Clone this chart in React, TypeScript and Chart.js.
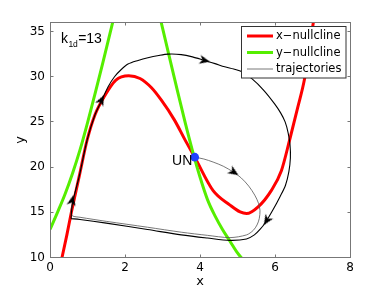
import { useEffect, useRef } from "react";
import { Chart, registerables } from "chart.js";

Chart.register(...registerables);

// ---- axis ticks ----
const xTicks = [0, 2, 4, 6, 8];
const yTicks = [10, 15, 20, 25, 30, 35];

// ---- x-nullcline (red) ----
const xNullX = [0.32, 0.45, 0.57, 0.78, 0.99, 1.2, 1.46, 1.75, 2.1, 2.4, 2.7, 2.97, 3.32, 3.59, 3.86, 4.35, 4.8, 5.07, 5.24, 5.55, 5.9, 6.17, 6.39, 6.6, 6.79, 7.03, 7.1];
const xNullY = [10, 12.5, 15, 19, 23, 25.8, 27.9, 29.6, 30.1, 29.8, 28.8, 27.4, 25.2, 23.1, 21.1, 17.4, 15.8, 15.04, 14.86, 15.6, 17.4, 19.6, 23, 26.5, 29.8, 36.2, 38];

// ---- y-nullcline (green), two branches split by a gap (null) ----
const yNullX = [0, 0.2, 0.4, 0.6, 0.8, 1.0, 1.2, 1.4, 1.6, 1.8, 1.9, 2.3, 2.8, 3.0, 3.2, 3.4, 3.6, 3.8, 4.0, 4.2, 4.4, 4.6, 4.8, 5.0, 5.2];
const yNullY: (number | null)[] = [13.1, 15.0, 17.0, 19.3, 21.9, 24.9, 28.1, 31.4, 34.8, 38.2, 39.9, null, 38.9, 35.4, 31.9, 28.4, 25.0, 21.8, 18.9, 16.4, 14.6, 13.1, 11.8, 10.5, 9.5];

// ---- trajectory 1 (black, limit cycle) ----
const trajAX = [0.56, 0.6, 0.78, 0.99, 1.2, 1.37, 1.55, 1.72, 1.9, 2.08, 2.35, 2.61, 2.9, 3.15, 3.5, 3.8, 4.12, 4.4, 4.66, 4.9, 5.09, 5.39, 5.7, 5.99, 6.15, 6.27, 6.35, 6.4, 6.41, 6.37, 6.28, 6.13, 5.95, 5.75, 5.6, 5.45, 5.24, 4.8, 4.2, 3.5, 2.6, 1.5, 0.8, 0.56];
const trajAY = [14.3, 16.0, 19.0, 23.0, 25.8, 27.3, 28.9, 30.0, 30.8, 31.4, 31.8, 32.1, 32.35, 32.5, 32.45, 32.2, 31.8, 31.45, 31.1, 30.85, 30.6, 29.76, 28.5, 27.0, 26.0, 25.0, 23.8, 22.5, 21.0, 19.5, 18.0, 16.7, 15.3, 13.9, 13.1, 12.5, 12.05, 11.9, 12.15, 12.5, 13.1, 13.8, 14.2, 14.3];

// ---- trajectory 2 (grey, from UN) ----
const trajBX = [3.86, 4.1, 4.35, 4.62, 4.89, 5.1, 5.3, 5.46, 5.56, 5.6, 5.58, 5.52, 5.42, 5.24, 4.8, 4.2, 3.5, 2.6, 1.5, 0.8, 0.6, 0.56, 0.6, 0.78, 0.99];
const trajBY = [21.1, 20.9, 20.56, 20.1, 19.45, 18.8, 17.9, 16.9, 16.0, 15.2, 14.3, 13.6, 13.0, 12.5, 12.2, 12.45, 12.8, 13.35, 14.0, 14.45, 14.6, 15.0, 16.0, 19.0, 23.0];

// ---- arrow heads (position, direction in screen degrees) ----
const arrowX = [0.59, 1.37, 4.12, 4.9, 5.78];
const arrowY = [16.3, 27.4, 31.8, 19.45, 14.1];
const arrowRot = [-78, -64, 13, 33, 122];

// ---- equilibrium point ----
const unX = [3.86];
const unY = [21.1];
const unLabel = "UN";

// ---- texts ----
const legendLabels = ["x\u2212nullcline", "y\u2212nullcline", "trajectories"];
const paramMain = "k";
const paramSub = "1d";
const paramRest = "=13";
const paramPos = { x: 0.29, y: 33.7 };

const pts = (xs: number[], ys: (number | null)[]) => xs.map((x, i) => ({ x, y: ys[i] }));

function makeArrow(): HTMLCanvasElement {
  const c = document.createElement("canvas");
  c.width = 14;
  c.height = 14;
  const g = c.getContext("2d")!;
  g.fillStyle = "#000";
  g.beginPath();
  g.moveTo(12.5, 7);
  g.lineTo(2, 2.5);
  g.lineTo(5, 7);
  g.lineTo(2, 11.5);
  g.closePath();
  g.fill();
  return c;
}

const FONT = "DejaVu Sans";
const TXT = "'Liberation Sans Narrow', 'Liberation Sans'";

export default function App() {
  const ref = useRef<HTMLCanvasElement>(null);

  useEffect(() => {
    document.body.style.margin = "0";
    const canvas = ref.current!;
    const arrow = makeArrow();

    const framePlugin = {
      id: "frame",
      afterDatasetsDraw(chart: any) {
        const { ctx, chartArea: a, scales } = chart;
        const xs = scales.x;
        const ys = scales.y;
        const L = Math.floor(a.left) + 0.5;
        const R = Math.floor(a.right) + 0.5;
        const T = Math.floor(a.top) + 0.5;
        const B = Math.floor(a.bottom) + 0.5;
        ctx.save();
        ctx.strokeStyle = "#777";
        ctx.lineWidth = 1;
        ctx.strokeRect(L, T, R - L, B - T);
        ctx.beginPath();
        xTicks.forEach((v) => {
          const p = Math.floor(xs.getPixelForValue(v)) + 0.5;
          ctx.moveTo(p, B);
          ctx.lineTo(p, B - 3);
          ctx.moveTo(p, T);
          ctx.lineTo(p, T + 3);
        });
        yTicks.forEach((v) => {
          const p = Math.floor(ys.getPixelForValue(v)) + 0.5;
          ctx.moveTo(L, p);
          ctx.lineTo(L + 3, p);
          ctx.moveTo(R, p);
          ctx.lineTo(R - 3, p);
        });
        ctx.stroke();

        // UN label
        const ux = xs.getPixelForValue(unX[0]);
        const uy = ys.getPixelForValue(unY[0]);
        ctx.fillStyle = "#000";
        ctx.font = "14px 'Liberation Sans'";
        ctx.textAlign = "right";
        ctx.textBaseline = "alphabetic";
        ctx.fillText(unLabel, ux - 2.5, uy + 8.3);

        // parameter label
        const kx = xs.getPixelForValue(paramPos.x);
        const ky = ys.getPixelForValue(paramPos.y);
        ctx.textAlign = "left";
        ctx.font = `14px ${TXT}`;
        ctx.fillText(paramMain, kx, ky);
        const w1 = ctx.measureText(paramMain).width;
        ctx.font = `8.5px ${TXT}`;
        ctx.fillText(paramSub, kx + w1 + 0.5, ky + 3.3);
        const w2 = ctx.measureText(paramSub).width;
        ctx.font = `14px ${TXT}`;
        ctx.fillText(paramRest, kx + w1 + w2 + 0.8, ky);
        ctx.restore();
      },
      afterDraw(chart: any) {
        const { ctx } = chart;
        const ds = chart.data.datasets;
        ctx.save();
        const bx = 241.5, by = 26.5, bw = 104.5, bh = 51.5;
        ctx.fillStyle = "#fff";
        ctx.fillRect(bx, by, bw, bh);
        ctx.strokeStyle = "#333";
        ctx.lineWidth = 1;
        ctx.strokeRect(bx, by, bw, bh);
        const rows = [36, 52.5, 69];
        ctx.font = `11.5px '${FONT}'`;
        ctx.textBaseline = "middle";
        ctx.textAlign = "left";
        [0, 1, 2].forEach((i) => {
          const d = ds[i];
          ctx.strokeStyle = d.borderColor;
          ctx.lineWidth = d.borderWidth;
          ctx.beginPath();
          ctx.moveTo(247, rows[i]);
          ctx.lineTo(273, rows[i]);
          ctx.stroke();
          ctx.fillStyle = "#000";
          ctx.fillText(legendLabels[i], 276, rows[i] + 0.5);
        });
        ctx.restore();
      },
    };

    const chart = new Chart(canvas, {
      type: "scatter",
      data: {
        datasets: [
          {
            label: legendLabels[0],
            data: pts(xNullX, xNullY),
            showLine: true,
            borderColor: "#ff0000",
            borderWidth: 3,
            pointRadius: 0,
            cubicInterpolationMode: "monotone",
            clip: 0,
            order: 6,
          },
          {
            label: legendLabels[1],
            data: pts(yNullX, yNullY),
            showLine: true,
            spanGaps: false,
            borderColor: "#55ee00",
            borderWidth: 3,
            pointRadius: 0,
            cubicInterpolationMode: "monotone",
            clip: 0,
            order: 5,
          },
          {
            label: legendLabels[2],
            data: pts(trajBX, trajBY),
            showLine: true,
            borderColor: "#555",
            borderWidth: 0.8,
            pointRadius: 0,
            tension: 0.3,
            clip: 0,
            order: 4,
          },
          {
            label: "cycle",
            data: pts(trajAX, trajAY),
            showLine: true,
            borderColor: "#000",
            borderWidth: 1.1,
            pointRadius: 0,
            tension: 0.3,
            clip: 0,
            order: 3,
          },
          {
            label: "arrows",
            data: pts(arrowX, arrowY),
            showLine: false,
            pointStyle: arrow as any,
            pointRadius: 5,
            pointRotation: arrowRot as any,
            order: 2,
          },
          {
            label: unLabel,
            data: pts(unX, unY),
            showLine: false,
            pointRadius: 4.3,
            pointBackgroundColor: "#2040ff",
            pointBorderWidth: 0,
            order: 1,
          },
        ] as any,
      },
      options: {
        responsive: false,
        animation: false,
        events: [],
        layout: { padding: { top: 22.5, right: 37, left: 0, bottom: 0 } },
        plugins: { legend: { display: false }, tooltip: { enabled: false } },
        scales: {
          x: {
            type: "linear",
            min: 0,
            max: 8,
            grid: { display: false, drawTicks: false },
            border: { display: false },
            afterBuildTicks: (s: any) => {
              s.ticks = xTicks.map((v) => ({ value: v }));
            },
            afterFit: (s: any) => {
              s.height = 33.5;
            },
            ticks: {
              color: "#000",
              font: { family: FONT, size: 12 },
              padding: 3,
              maxRotation: 0,
              autoSkip: false,
            },
            title: {
              display: true,
              text: "x",
              color: "#000",
              font: { family: FONT, size: 13 },
              padding: { top: 0, bottom: 1.2 },
            },
          },
          y: {
            type: "linear",
            min: 10,
            max: 36,
            grid: { display: false, drawTicks: false },
            border: { display: false },
            afterBuildTicks: (s: any) => {
              s.ticks = yTicks.map((v) => ({ value: v }));
            },
            afterFit: (s: any) => {
              s.width = 50;
            },
            ticks: {
              color: "#000",
              font: { family: FONT, size: 12 },
              padding: 5,
              autoSkip: false,
            },
            title: {
              display: true,
              text: "y",
              color: "#000",
              font: { family: FONT, size: 13 },
              padding: { top: 12.5, bottom: 0 },
            },
          },
        },
      } as any,
      plugins: [framePlugin],
    });

    return () => chart.destroy();
  }, []);

  return <canvas ref={ref} width={387} height={291} style={{ display: "block", width: 387, height: 291 }} />;
}
